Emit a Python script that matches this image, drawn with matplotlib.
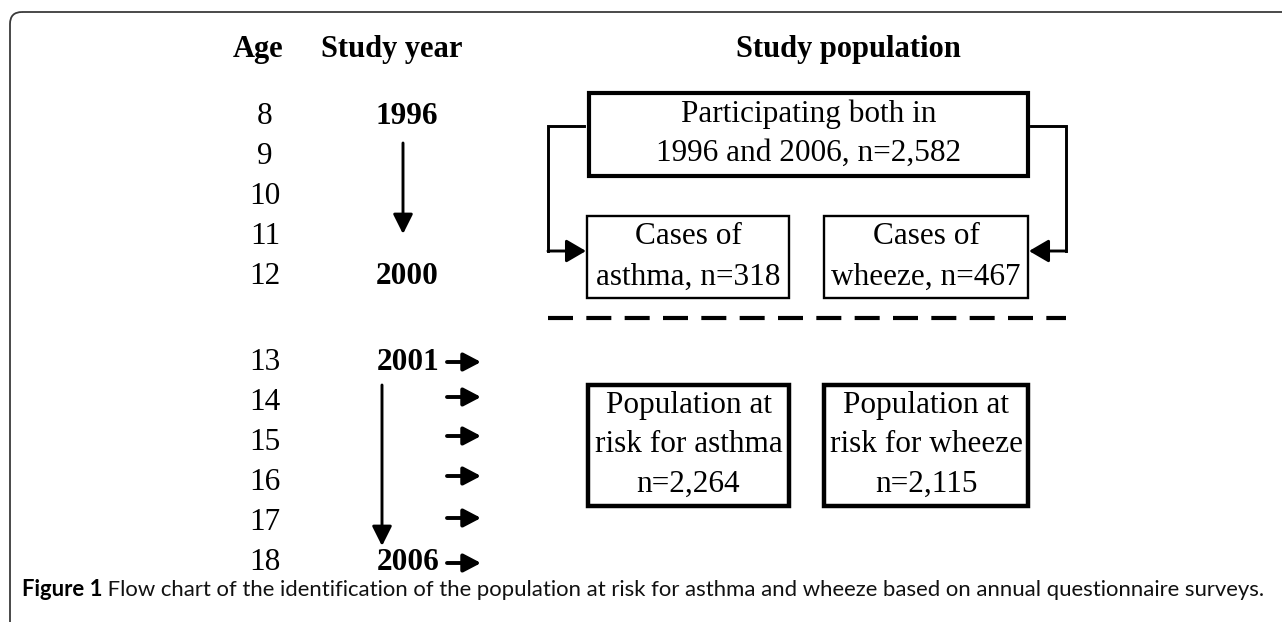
import matplotlib
matplotlib.use("Agg")
import matplotlib.pyplot as plt
from matplotlib.patches import Rectangle, FancyBboxPatch

# ---- chart content ----
ages = [8, 9, 10, 11, 12, 13, 14, 15, 16, 17, 18]
years = {8: "1996", 12: "2000", 13: "2001", 18: "2006"}
headers = ["Age", "Study year", "Study population"]
top_box = "Participating both in\n1996 and 2006, n=2,582"
case_boxes = ["Cases of\nasthma, n=318", "Cases of\nwheeze, n=467"]
risk_boxes = ["Population at\nrisk for asthma\nn=2,264", "Population at\nrisk for wheeze\nn=2,115"]
caption_bold = "Figure 1"
caption = " Flow chart of the identification of the population at risk for asthma and wheeze based on annual questionnaire surveys."

# ---- layout (pixel coords, y down) ----
row_y = [116, 156, 196, 236, 277, 362, 402, 442, 482, 522, 563]
arrow_rows_y = [362, 397, 436, 476, 518, 563]
age_x, year_x = 265, 407
serif = "Liberation Serif"
fs = 22.5
hfs = 22

fig = plt.figure(figsize=(12.82, 6.22), dpi=100)
ax = fig.add_axes([0, 0, 1, 1])
ax.set_xlim(0, 1282)
ax.set_ylim(622, 0)
ax.axis("off")

# outer frame (only top/left visible, rounded corner)
ax.add_patch(FancyBboxPatch((10, 12), 1400, 700, boxstyle="round,pad=0,rounding_size=12",
                            fc="none", ec="#3a3a3a", lw=1.3))

# headers
ax.text(258, 49, headers[0], ha="center", va="center", family=serif, fontsize=hfs, weight="bold")
ax.text(392, 49, headers[1], ha="center", va="center", family=serif, fontsize=hfs, weight="bold")
ax.text(848, 49, headers[2], ha="center", va="center", family=serif, fontsize=hfs, weight="bold")

# age column and years
for a, y in zip(ages, row_y):
    ax.text(age_x, y, str(a), ha="center", va="center", family=serif, fontsize=fs)
    if a in years:
        if a in (13, 18):
            ax.text(439, y, years[a], ha="right", va="center", family=serif, fontsize=fs, weight="bold")
        else:
            ax.text(year_x, y, years[a], ha="center", va="center", family=serif, fontsize=fs, weight="bold")

def arrow(x0, y0, x1, y1, lw=2.1, hl=12, hw=6):
    ax.annotate("", xy=(x1, y1), xytext=(x0, y0),
                arrowprops=dict(arrowstyle="-|>,head_length=%g,head_width=%g" % (hl, hw),
                                mutation_scale=1, lw=lw, color="black",
                                shrinkA=0, shrinkB=0))

# vertical time arrows
arrow(403, 143, 403, 234)
arrow(382, 385, 382, 546)

# small right arrows
for y in arrow_rows_y:
    arrow(447, y, 481, y, lw=2.8, hl=10.5, hw=5.5)

# boxes
def box(x0, y0, x1, y1, text, lw, ys):
    ax.add_patch(Rectangle((x0, y0), x1 - x0, y1 - y0, fc="white", ec="black", lw=lw))
    for t, y in zip(text.split("\n"), ys):
        ax.text((x0 + x1) / 2, y, t, ha="center", va="center", family=serif, fontsize=fs)

box(589, 93, 1028, 176, top_box, 3.0, [114, 153])
box(587, 216, 789, 298, case_boxes[0], 1.7, [237, 277])
box(824, 216, 1028, 298, case_boxes[1], 1.7, [237, 277])
box(588, 385, 789, 506, risk_boxes[0], 3.2, [405, 444, 484])
box(824, 385, 1028, 506, risk_boxes[1], 3.2, [405, 444, 484])

# bracket arrows from the top box to the case boxes
ax.plot([584, 548, 548], [126, 126, 251], color="black", lw=2.1, solid_joinstyle="miter")
arrow(548, 251, 586, 251, hl=12, hw=7)
ax.plot([1031, 1066, 1066], [126, 126, 251], color="black", lw=2.1, solid_joinstyle="miter")
arrow(1066, 251, 1029, 251, hl=12, hw=7)

# dashed separator
ax.plot([548, 1066], [318, 318], color="black", lw=3.0, dashes=(6, 3.2))

# caption
t1 = ax.text(22, 590, caption_bold, ha="left", va="center", family="Lato",
             fontsize=15.9, weight="bold")
ax.annotate(caption, xy=(1, 0.5), xycoords=t1, ha="left", va="center",
            family="Lato", fontsize=15.9, color="#111111")

fig.savefig("out.png", dpi=100)
